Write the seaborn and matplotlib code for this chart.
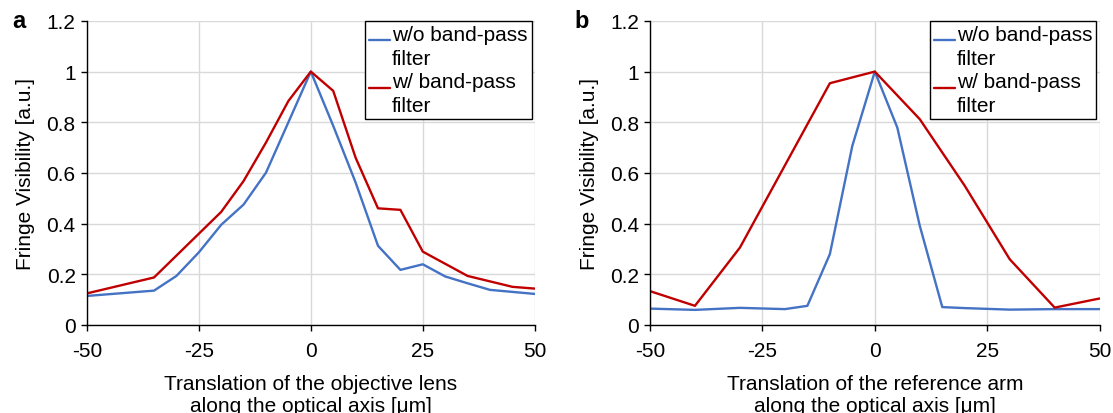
import seaborn as sns
import matplotlib.pyplot as plt
import pandas as pd
from matplotlib.ticker import FuncFormatter

# panel a: objective lens translation
xa_wo = [-50, -35, -30, -25, -20, -15, -10, -5, 0, 5, 10, 15, 20, 25, 30, 35, 40, 45, 50]
ya_wo = [0.114, 0.135, 0.193, 0.286, 0.395, 0.475, 0.601, 0.80, 1.0, 0.786, 0.562, 0.312,
         0.217, 0.239, 0.191, 0.164, 0.138, 0.130, 0.122]
xa_w = [-50, -35, -20, -15, -10, -5, 0, 5, 10, 15, 20, 25, 35, 45, 50]
ya_w = [0.124, 0.187, 0.446, 0.568, 0.72, 0.884, 1.0, 0.924, 0.66, 0.46, 0.454, 0.289,
        0.193, 0.150, 0.143]

# panel b: reference arm translation
xb_wo = [-50, -40, -30, -20, -15, -10, -5, 0, 5, 10, 15, 20, 25, 30, 40, 50]
yb_wo = [0.064, 0.059, 0.067, 0.062, 0.075, 0.279, 0.707, 1.0, 0.779, 0.391, 0.070,
         0.066, 0.063, 0.060, 0.062, 0.062]
xb_w = [-50, -40, -30, -10, 0, 10, 20, 30, 40, 50]
yb_w = [0.133, 0.075, 0.305, 0.954, 1.0, 0.812, 0.549, 0.259, 0.068, 0.104]

labels = ["w/o band-pass\nfilter", "w/ band-pass\nfilter"]
colors = ["#4472C4", "#C00000"]

sns.set_style("whitegrid")
plt.rcParams['font.family'] = ['Liberation Sans', 'DejaVu Sans']
plt.rcParams['font.size'] = 15
plt.rcParams['axes.unicode_minus'] = False
for k in ['text.color', 'axes.labelcolor', 'xtick.color', 'ytick.color']:
    plt.rcParams[k] = 'black'

fig = plt.figure(figsize=(11.13, 4.14), dpi=100)
ax_a = fig.add_axes([0.078, 0.213, 0.4025, 0.734])
ax_b = fig.add_axes([0.584, 0.213, 0.404, 0.734])

panels = [
    (ax_a, xa_wo, ya_wo, xa_w, ya_w, "a", "Translation of the objective lens\nalong the optical axis [\u03bcm]"),
    (ax_b, xb_wo, yb_wo, xb_w, yb_w, "b", "Translation of the reference arm\nalong the optical axis [\u03bcm]"),
]

for ax, x1, y1, x2, y2, tag, xlabel in panels:
    df1 = pd.DataFrame({"x": x1, "y": y1})
    df2 = pd.DataFrame({"x": x2, "y": y2})
    sns.lineplot(data=df1, x="x", y="y", ax=ax, color=colors[0], lw=1.7, label=labels[0])
    sns.lineplot(data=df2, x="x", y="y", ax=ax, color=colors[1], lw=1.7, label=labels[1])
    ax.set_xlim(-50, 50)
    ax.set_ylim(0, 1.2)
    ax.set_xticks([-50, -25, 0, 25, 50])
    ax.set_yticks([0, 0.2, 0.4, 0.6, 0.8, 1.0, 1.2])
    ax.yaxis.set_major_formatter(FuncFormatter(lambda v, p: f"{v:g}"))
    ax.grid(True, color="#d9d9d9", lw=1)
    for s in ["top", "right"]:
        ax.spines[s].set_visible(False)
    for s in ["left", "bottom"]:
        ax.spines[s].set_color("black")
        ax.spines[s].set_linewidth(1)
    ax.tick_params(axis="both", which="both", length=4, width=1, color="black",
                   labelsize=15, left=True, bottom=True)
    ax.tick_params(axis="x", pad=8)
    ax.tick_params(axis="y", pad=4)
    ax.set_xlabel(xlabel, fontsize=15, labelpad=10, linespacing=1.15)
    ax.set_ylabel("Fringe Visibility [a.u.]", fontsize=15, labelpad=8)
    leg = ax.legend(loc="upper right", bbox_to_anchor=(0.993, 1.0), frameon=True, fancybox=False,
                    edgecolor="black", fontsize=15, handlelength=1.0, handletextpad=0.1,
                    borderpad=0.2, labelspacing=0.22, borderaxespad=0)
    leg.get_frame().set_linewidth(1)
    leg.get_frame().set_alpha(1)
    for t in leg.get_texts():
        t.set_linespacing(1.32)
    # put the handle next to the first text line, as in the original
    for h in leg.legend_handles:
        h.set_ydata([v + 4.5 for v in h.get_ydata()])
    ax.text(-0.167, 1.0, tag, transform=ax.transAxes, fontsize=17, fontweight="bold",
            ha="left", va="center")

fig.savefig("out.png", dpi=100)
